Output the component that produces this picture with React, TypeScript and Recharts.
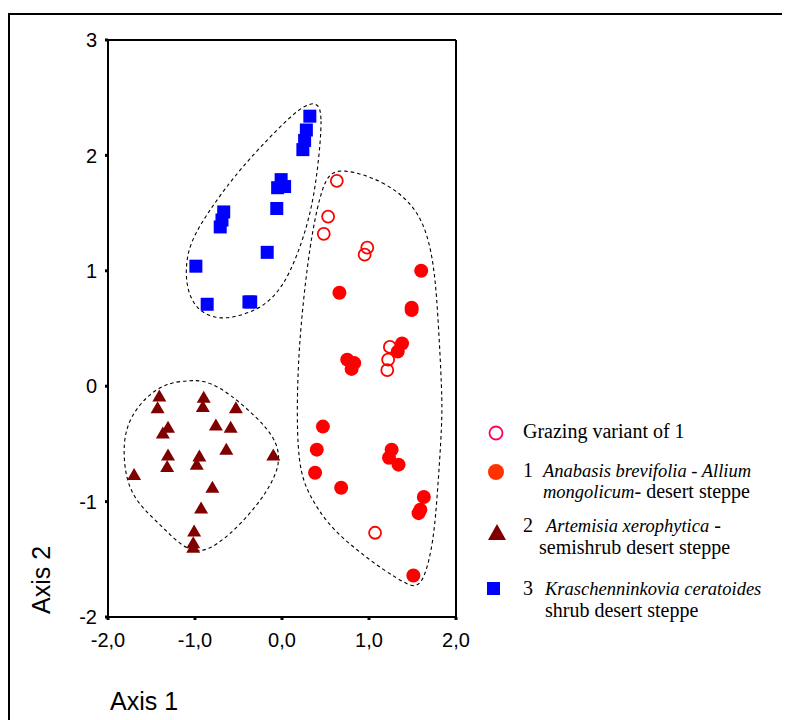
import React from 'react';
import { ScatterChart, Scatter, XAxis, YAxis, ReferenceLine } from 'recharts';

const xTicks = [-2, -1, 0, 1, 2];
const yTicks = [-2, -1, 0, 1, 2, 3];

const grazingVariant = [
  { x: 0.63, y: 1.78 }, { x: 0.53, y: 1.47 }, { x: 0.48, y: 1.32 }, { x: 0.98, y: 1.2 },
  { x: 0.95, y: 1.14 }, { x: 1.24, y: 0.34 }, { x: 1.22, y: 0.23 }, { x: 1.21, y: 0.14 },
  { x: 1.07, y: -1.27 },
];

const anabasis = [
  { x: 1.6, y: 1.0 }, { x: 0.66, y: 0.81 }, { x: 1.49, y: 0.68 }, { x: 1.49, y: 0.66 },
  { x: 1.38, y: 0.37 }, { x: 1.33, y: 0.3 }, { x: 0.75, y: 0.23 }, { x: 0.83, y: 0.2 },
  { x: 0.8, y: 0.15 }, { x: 0.47, y: -0.35 }, { x: 0.4, y: -0.55 }, { x: 0.38, y: -0.75 },
  { x: 0.68, y: -0.88 }, { x: 1.26, y: -0.55 }, { x: 1.23, y: -0.62 }, { x: 1.34, y: -0.68 },
  { x: 1.63, y: -0.96 }, { x: 1.59, y: -1.07 }, { x: 1.57, y: -1.1 }, { x: 1.51, y: -1.64 },
];

const artemisia = [
  { x: -1.41, y: -0.09 }, { x: -1.43, y: -0.19 }, { x: -0.9, y: -0.1 }, { x: -0.91, y: -0.18 },
  { x: -0.53, y: -0.19 }, { x: -1.31, y: -0.36 }, { x: -1.37, y: -0.41 }, { x: -0.76, y: -0.34 },
  { x: -0.59, y: -0.36 }, { x: -0.64, y: -0.55 }, { x: -1.31, y: -0.6 }, { x: -1.32, y: -0.7 },
  { x: -0.95, y: -0.61 }, { x: -0.98, y: -0.68 }, { x: -1.7, y: -0.77 }, { x: -0.1, y: -0.6 },
  { x: -0.8, y: -0.88 }, { x: -0.93, y: -1.06 }, { x: -1.01, y: -1.26 }, { x: -1.02, y: -1.36 },
  { x: -1.02, y: -1.4 },
];

const krascheninnikovia = [
  { x: 0.32, y: 2.34 }, { x: 0.28, y: 2.22 }, { x: 0.26, y: 2.13 }, { x: 0.24, y: 2.05 },
  { x: -0.01, y: 1.79 }, { x: 0.03, y: 1.73 }, { x: -0.05, y: 1.72 }, { x: -0.06, y: 1.54 },
  { x: -0.67, y: 1.51 }, { x: -0.69, y: 1.44 }, { x: -0.71, y: 1.38 }, { x: -0.17, y: 1.16 },
  { x: -0.99, y: 1.04 }, { x: -0.86, y: 0.71 }, { x: -0.36, y: 0.73 }, { x: -0.38, y: 0.73 },
];

const hullBlue = [
  { x: 0.4, y: 2.45 }, { x: 0.47, y: 2.37 }, { x: 0.41, y: 1.85 }, { x: 0.32, y: 1.46 },
  { x: 0.17, y: 1.12 }, { x: 0.01, y: 0.86 }, { x: -0.22, y: 0.68 }, { x: -0.52, y: 0.6 },
  { x: -0.75, y: 0.58 }, { x: -0.98, y: 0.66 }, { x: -1.09, y: 0.83 }, { x: -1.11, y: 1.03 },
  { x: -1.06, y: 1.24 }, { x: -0.86, y: 1.5 }, { x: -0.52, y: 1.85 }, { x: -0.14, y: 2.16 },
  { x: 0.17, y: 2.39 }, { x: 0.32, y: 2.45 },
];

const hullRed = [
  { x: 0.67, y: 1.89 }, { x: 1.16, y: 1.79 }, { x: 1.59, y: 1.53 }, { x: 1.74, y: 1.12 },
  { x: 1.79, y: 0.66 }, { x: 1.84, y: -0.06 }, { x: 1.84, y: -0.32 }, { x: 1.79, y: -0.9 },
  { x: 1.74, y: -1.36 }, { x: 1.64, y: -1.66 }, { x: 1.55, y: -1.74 }, { x: 1.44, y: -1.72 },
  { x: 1.16, y: -1.59 }, { x: 0.86, y: -1.42 }, { x: 0.55, y: -1.22 }, { x: 0.32, y: -0.96 },
  { x: 0.18, y: -0.7 }, { x: 0.17, y: -0.06 }, { x: 0.21, y: 0.51 }, { x: 0.32, y: 1.24 },
  { x: 0.44, y: 1.67 }, { x: 0.53, y: 1.83 },
];

const hullBrown = [
  { x: -1.06, y: 0.05 }, { x: -1.32, y: 0.03 }, { x: -1.55, y: -0.08 }, { x: -1.75, y: -0.27 },
  { x: -1.83, y: -0.49 }, { x: -1.8, y: -0.8 }, { x: -1.67, y: -1.01 }, { x: -1.4, y: -1.2 },
  { x: -1.14, y: -1.4 }, { x: -0.94, y: -1.44 }, { x: -0.75, y: -1.38 }, { x: -0.45, y: -1.18 },
  { x: -0.17, y: -0.92 }, { x: -0.02, y: -0.68 }, { x: -0.05, y: -0.51 }, { x: -0.17, y: -0.36 },
  { x: -0.45, y: -0.16 }, { x: -0.71, y: -0.01 }, { x: -0.91, y: 0.05 },
];

const legendLabels = {
  grazing: 'Grazing variant of 1',
  g1a: 'Anabasis brevifolia - Allium',
  g1b: 'mongolicum',
  g1c: '- desert steppe',
  g2a: 'Artemisia xerophytica',
  g2b: ' -',
  g2c: 'semishrub desert steppe',
  g3a: 'Kraschenninkovia ceratoides',
  g3b: 'shrub desert steppe',
};

const OpenCircle = (p: any) => (
  <circle cx={p.cx} cy={p.cy} r={6} fill="none" stroke="#ff0000" strokeWidth={1.8} />
);
const FilledCircle = (p: any) => <circle cx={p.cx} cy={p.cy} r={7} fill="#ff0000" />;
const Tri = (p: any) => (
  <polygon
    points={`${p.cx},${p.cy - 7} ${p.cx + 7},${p.cy + 5} ${p.cx - 7},${p.cy + 5}`}
    fill="#800000"
  />
);
const Sq = (p: any) => <rect x={p.cx - 6.5} y={p.cy - 6.5} width={13} height={13} fill="#0000ff" />;
const NoShape = () => <g />;

const fmt = (v: number) => v.toFixed(1).replace('.', ',');

const hullLine = { stroke: '#000', strokeWidth: 1.1, strokeDasharray: '3.5 3', fill: 'none' };

const tickStyle = { fill: '#000', fontSize: 20, fontFamily: 'Arial, "Liberation Sans", sans-serif' };
const serif = '"Times New Roman", "Liberation Serif", serif';
const IT = 18.5;

export default function App() {
  return (
    <div style={{ position: 'relative', width: 782, height: 712, overflow: 'hidden', background: '#fff' }}>
      <ScatterChart width={782} height={712} margin={{ top: 32, right: 334, bottom: 73, left: 40 }}>
        <XAxis
          type="number"
          dataKey="x"
          domain={[-2, 2]}
          ticks={xTicks}
          tickFormatter={fmt}
          allowDataOverflow
          stroke="#000"
          strokeWidth={2}
          tickSize={3}
          tickLine={{ stroke: '#000', strokeWidth: 3 }}
          tick={tickStyle}
          tickMargin={13}
          height={30}
        />
        <YAxis
          type="number"
          dataKey="y"
          domain={[-2, 3]}
          ticks={yTicks}
          allowDataOverflow
          stroke="#000"
          strokeWidth={2}
          tickSize={3}
          tickLine={{ stroke: '#000', strokeWidth: 3 }}
          tick={tickStyle}
          tickMargin={8}
          width={60}
        />
        <ReferenceLine y={3} stroke="#000" strokeWidth={2} />
        <ReferenceLine x={2} stroke="#000" strokeWidth={2} />
        <Scatter data={hullBlue} fill="none" line={hullLine} lineType="joint" lineJointType="basisClosed" shape={NoShape} isAnimationActive={false} />
        <Scatter data={hullRed} fill="none" line={hullLine} lineType="joint" lineJointType="basisClosed" shape={NoShape} isAnimationActive={false} />
        <Scatter data={hullBrown} fill="none" line={hullLine} lineType="joint" lineJointType="basisClosed" shape={NoShape} isAnimationActive={false} />
        <Scatter data={grazingVariant} shape={OpenCircle} isAnimationActive={false} />
        <Scatter data={anabasis} shape={FilledCircle} isAnimationActive={false} />
        <Scatter data={artemisia} shape={Tri} isAnimationActive={false} />
        <Scatter data={krascheninnikovia} shape={Sq} isAnimationActive={false} />
      </ScatterChart>
      <svg width={782} height={712} style={{ position: 'absolute', left: 0, top: 0, pointerEvents: 'none' }}>
        <path d="M1,712 L1,6 L782,6" fill="none" stroke="#000" strokeWidth={2} />
        <text x={102} y={702} fontSize={25} fontFamily='Arial, "Liberation Sans", sans-serif' fill="#000">Axis 1</text>
        <text
          transform="translate(42,572) rotate(-90)"
          textAnchor="middle"
          fontSize={25}
          fontFamily='Arial, "Liberation Sans", sans-serif'
          fill="#000"
        >
          Axis 2
        </text>
        <circle cx={488} cy={425} r={6.5} fill="none" stroke="#ff0066" strokeWidth={1.8} />
        <circle cx={488} cy={464} r={8} fill="#ff3300" />
        <polygon points="489,516 498,532 480,532" fill="#800000" />
        <rect x={479} y={574} width={13} height={13} fill="#0000ff" />
        <g fontFamily={serif} fontSize={20} fill="#000">
          <text x={515} y={430}>{legendLabels.grazing}</text>
          <text x={515} y={469}>1</text>
          <text x={535} y={469} fontStyle="italic" fontSize={IT}>{legendLabels.g1a}</text>
          <text x={535} y={490}>
            <tspan fontStyle="italic" fontSize={IT}>{legendLabels.g1b}</tspan>
            <tspan>{legendLabels.g1c}</tspan>
          </text>
          <text x={515} y={524}>2</text>
          <text x={538} y={524}>
            <tspan fontStyle="italic" fontSize={IT}>{legendLabels.g2a}</tspan>
            <tspan>{legendLabels.g2b}</tspan>
          </text>
          <text x={531} y={546}>{legendLabels.g2c}</text>
          <text x={515} y={587}>3</text>
          <text x={537} y={587} fontStyle="italic" fontSize={IT}>{legendLabels.g3a}</text>
          <text x={537} y={609}>{legendLabels.g3b}</text>
        </g>
      </svg>
    </div>
  );
}
